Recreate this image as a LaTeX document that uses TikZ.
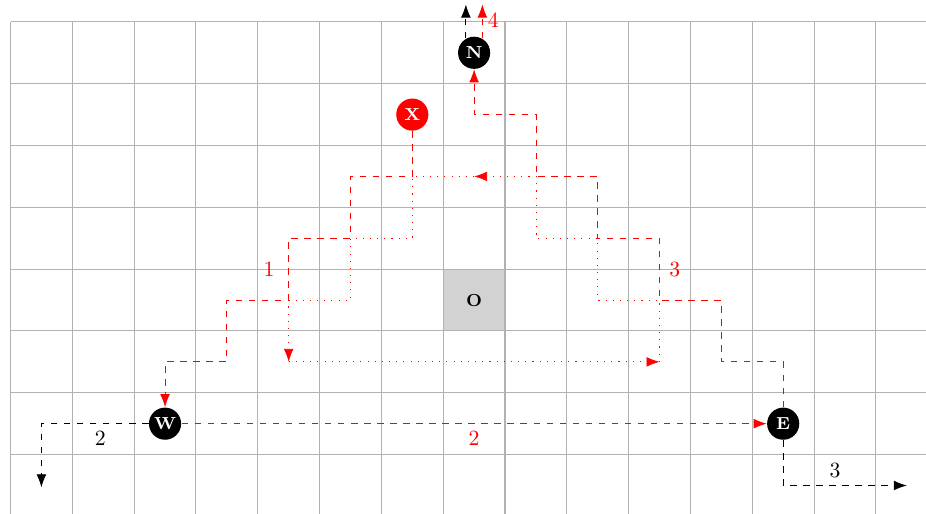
\documentclass[tikz,border=0pt]{standalone}
\usetikzlibrary{arrows.meta}
\begin{document}
\begin{tikzpicture}[
  vtx/.style={circle, fill=black, text=white, font=\footnotesize\bfseries, inner sep=0pt, minimum size=0.52cm},
  tip/.style={-{Latex[length=6pt,width=4.5pt]}},
  rdash/.style={red, dashed, tip},
  rdot/.style={red, dash pattern=on 0.5pt off 2.8pt, tip},
  bdash/.style={black, dashed, tip},
  gridline/.style={gray!60, line width=0.5pt},
  lbl/.style={font=\normalsize}
]
\useasboundingbox (-7.67,-3.447) rectangle (7.31,4.854);
\begin{scope}
  \clip (-7.67,-3.447) rectangle (7.31,4.854);
  \begin{scope}[shift={(0.5,0.5)}]
    \draw[gridline] (-8,-4) grid (7,4);
  \end{scope}
\end{scope}
\node[draw=gray!60, line width=0.5pt, fill=gray!35, minimum size=1cm, inner sep=0pt, font=\footnotesize\bfseries] (O) at (0,0) {O};

\node[vtx] (N) at (0,4) {N};
\node[vtx, fill=red] (X) at (-1,3) {X};
\node[vtx] (W) at (-5,-2) {W};
\node[vtx] (E) at (5,-2) {E};

\coordinate (P) at (0,2);
\coordinate (Q) at (-3,-1);
\coordinate (R) at (3,-1);

% path 1: X to W
\draw[rdash] (X) -- (-1,2) -- (-2,2) -- (-2,1) -- (-3,1)
  -- node[left, xshift=-3pt, text=red] {1} (-3,0) -- (-4,0) -- (-4,-1) -- (-5,-1) -- (W);
% path 2: W to E
\draw[rdash] (W) -- node[below, text=red] {2} (E);
% path 3: E to N
\draw[rdash] (E) -- (5,-1) -- (4,-1) -- (4,0) -- (3,0)
  -- node[right, xshift=1pt, text=red] {3} (3,1) -- (2,1) -- (2,2) -- (1,2) -- (1,3) -- (0,3) -- (N);
% path 4 out of N
\draw[rdash] (N.60) -- node[right, pos=0.55, xshift=-1pt, text=red] {4} ++(0,0.55);
\draw[bdash] (N.120) -- ++(0,0.55);

% black exits
\draw[bdash] (W) -- node[below, pos=0.45] {2} (-7,-2) -- (-7,-3.03);
\draw[bdash] (E) -- (5,-3) -- node[above, pos=0.42] {3} (7,-3);

% dotted triangle
\draw[rdot] (P) -- (-1,2) -- (-1,1) -- (-2,1) -- (-2,0) -- (-3,0) -- (Q);
\draw[rdot] (Q) -- (R);
\draw[rdot] (R) -- (3,0) -- (2,0) -- (2,1) -- (1,1) -- (1,2) -- (P);
\end{tikzpicture}
\end{document}
